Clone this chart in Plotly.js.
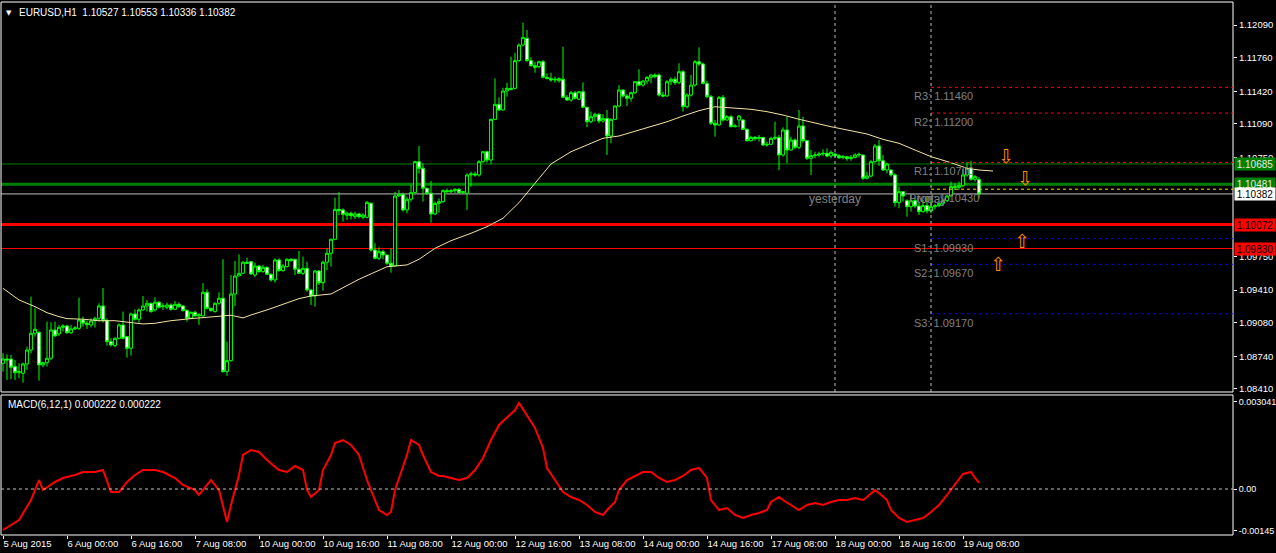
<!DOCTYPE html>
<html><head><meta charset="utf-8">
<script src="https://cdn.plot.ly/plotly-3.0.1.min.js"></script>
<style>html,body{margin:0;padding:0;background:#000;}#chart{width:1276px;height:553px;}</style>
</head><body><div id="chart"></div>
<script>
// ---- EURUSD H1 candles (bar 0 = 5 Aug 2015 08:00) ----
const opens = [
1.08669,1.08713,1.08713,1.08636,1.08575,1.08568,1.08663,1.08804,1.08973,1.08983,
1.08653,1.08676,1.08720,1.09006,1.08966,1.09033,1.09047,1.08979,1.09017,1.09023,
1.09108,1.09074,1.09057,1.09101,1.09124,1.09249,1.09101,1.08888,1.08848,1.08922,
1.09057,1.08939,1.08821,1.09168,1.09114,1.09209,1.09249,1.09276,1.09209,1.09286,
1.09242,1.09236,1.09259,1.09215,1.09266,1.09249,1.09202,1.09124,1.09185,1.09148,
1.09148,1.09387,1.09225,1.09192,1.09276,1.09327,1.08585,1.08696,1.09370,1.09552,
1.09579,1.09691,1.09697,1.09562,1.09653,1.09596,1.09640,1.09569,1.09512,1.09714,
1.09606,1.09647,1.09721,1.09721,1.09620,1.09579,1.09630,1.09411,1.09350,1.09603,
1.09485,1.09691,1.09782,1.09923,1.10226,1.10220,1.10166,1.10186,1.10152,1.10179,
1.10146,1.10146,1.10287,1.09815,1.09731,1.09798,1.09765,1.09681,1.09653,1.10361,
1.10378,1.10220,1.10328,1.10395,1.10708,1.10641,1.10439,1.10388,1.10179,1.10287,
1.10304,1.10415,1.10405,1.10415,1.10429,1.10395,1.10388,1.10574,1.10584,1.10574,
1.10708,1.10809,1.10725,1.11136,1.11288,1.11231,1.11423,1.11450,1.11450,1.11730,
1.11888,1.11955,1.11730,1.11679,1.11669,1.11719,1.11561,1.11548,1.11534,1.11527,
1.11541,1.11359,1.11332,1.11406,1.11339,1.11416,1.11258,1.11113,1.11163,1.11187,
1.11119,1.11146,1.10968,1.11136,1.11271,1.11433,1.11372,1.11349,1.11406,1.11517,
1.11483,1.11524,1.11561,1.11585,1.11585,1.11382,1.11372,1.11517,1.11541,1.11507,
1.11618,1.11264,1.11382,1.11483,1.11719,1.11696,1.11500,1.11366,1.11096,1.11079,
1.11359,1.11130,1.11163,1.11062,1.11130,1.11130,1.11035,1.10921,1.10954,1.10941,
1.10954,1.10877,1.10884,1.10944,1.10954,1.10776,1.11029,1.10826,1.10927,1.10853,
1.11069,1.10921,1.10742,1.10769,1.10776,1.10786,1.10793,1.10766,1.10786,1.10769,
1.10749,1.10759,1.10739,1.10752,1.10776,1.10776,1.10540,1.10563,1.10708,1.10867,
1.10718,1.10624,1.10624,1.10574,1.10294,1.10405,1.10314,1.10253,1.10314,1.10260,
1.10203,1.10264,1.10210,1.10253,1.10264,1.10287,1.10314,1.10361,1.10456,1.10449,
1.10466,1.10574,1.10641,1.10530,1.10527];
const highs = [
1.08771,1.08760,1.08754,1.08703,1.08669,1.08676,1.08838,1.09343,1.09225,1.08990,
1.08683,1.09091,1.09084,1.09091,1.09057,1.09064,1.09057,1.09057,1.09047,1.09333,
1.09141,1.09101,1.09124,1.09141,1.09276,1.09431,1.09124,1.08922,1.08932,1.09074,
1.09192,1.08939,1.09182,1.09215,1.09225,1.09350,1.09310,1.09283,1.09337,1.09300,
1.09276,1.09283,1.09276,1.09300,1.09286,1.09259,1.09215,1.09192,1.09202,1.09175,
1.09478,1.09418,1.09232,1.09286,1.09387,1.09721,1.08888,1.09562,1.09704,1.09771,
1.09704,1.09738,1.09704,1.09687,1.09664,1.09664,1.09647,1.09579,1.09731,1.09731,
1.09674,1.09731,1.09731,1.09724,1.09805,1.09748,1.09697,1.09418,1.09613,1.09613,
1.09707,1.09832,1.09933,1.10344,1.10402,1.10237,1.10203,1.10203,1.10203,1.10193,
1.10186,1.10311,1.10294,1.09883,1.09842,1.09815,1.09765,1.09832,1.10402,1.10422,
1.10395,1.10354,1.10472,1.10718,1.10867,1.10691,1.10445,1.10513,1.10304,1.10338,
1.10429,1.10439,1.10432,1.10439,1.10439,1.10402,1.10590,1.10607,1.10607,1.10725,
1.10816,1.10820,1.11146,1.11551,1.11359,1.11456,1.11507,1.11770,1.11810,1.11905,
1.12114,1.12040,1.11763,1.11719,1.11730,1.11736,1.11601,1.11608,1.11568,1.11561,
1.11871,1.11382,1.11423,1.11423,1.11423,1.11510,1.11264,1.11214,1.11204,1.11197,
1.11190,1.11231,1.11146,1.11281,1.11483,1.11440,1.11393,1.11416,1.11524,1.11642,
1.11534,1.11574,1.11591,1.11601,1.11601,1.11416,1.11534,1.11561,1.11568,1.11703,
1.11635,1.11399,1.11585,1.11736,1.11864,1.11709,1.11527,1.11382,1.11130,1.11372,
1.11382,1.11180,1.11180,1.11089,1.11180,1.11136,1.11045,1.10968,1.10968,1.10978,
1.10954,1.10911,1.10961,1.11113,1.10978,1.11055,1.11163,1.10961,1.10944,1.11231,
1.11163,1.10927,1.10826,1.10809,1.10809,1.10833,1.10843,1.10820,1.10799,1.10786,
1.10776,1.10766,1.10776,1.10793,1.10799,1.10776,1.10607,1.10725,1.10887,1.10927,
1.10776,1.10698,1.10631,1.10590,1.10456,1.10405,1.10328,1.10381,1.10348,1.10294,
1.10321,1.10354,1.10328,1.10280,1.10294,1.10328,1.10371,1.10506,1.10489,1.10506,
1.10631,1.10708,1.10718,1.10574,1.10553];
const lows = [
1.08585,1.08501,1.08508,1.08501,1.08518,1.08474,1.08602,1.08771,1.08939,1.08494,
1.08629,1.08636,1.08703,1.08939,1.08946,1.08990,1.08966,1.08966,1.09006,1.09006,
1.09040,1.09017,1.09033,1.09030,1.09091,1.09081,1.08848,1.08838,1.08831,1.08912,
1.08912,1.08727,1.08747,1.09101,1.09081,1.09202,1.09192,1.09182,1.09192,1.09225,
1.09209,1.09215,1.09202,1.09209,1.09232,1.09192,1.09091,1.09124,1.09141,1.09057,
1.09141,1.09215,1.09192,1.09182,1.09259,1.08575,1.08541,1.08686,1.09249,1.09552,
1.09573,1.09674,1.09562,1.09539,1.09586,1.09586,1.09562,1.09495,1.09485,1.09596,
1.09596,1.09640,1.09697,1.09562,1.09573,1.09562,1.09394,1.09259,1.09242,1.09461,
1.09404,1.09613,1.09647,1.09916,1.10169,1.10102,1.10119,1.10125,1.10129,1.10135,
1.10125,1.10135,1.09798,1.09721,1.09714,1.09721,1.09664,1.09586,1.09647,1.10354,
1.10203,1.10186,1.10304,1.10388,1.10590,1.10304,1.10371,1.10092,1.10169,1.10193,
1.10294,1.10395,1.10381,1.10388,1.10388,1.10381,1.10220,1.10456,1.10557,1.10557,
1.10698,1.10698,1.10685,1.11130,1.11224,1.11224,1.11366,1.11433,1.11440,1.11719,
1.11878,1.11719,1.11669,1.11608,1.11652,1.11551,1.11541,1.11517,1.11507,1.11507,
1.11349,1.11322,1.11315,1.11339,1.11332,1.11248,1.11055,1.11096,1.11113,1.11096,
1.11103,1.10776,1.10894,1.11130,1.11258,1.11359,1.11271,1.11315,1.11393,1.11473,
1.11467,1.11494,1.11500,1.11551,1.11366,1.11359,1.11366,1.11483,1.11483,1.11490,
1.11214,1.11248,1.11366,1.11467,1.11676,1.11490,1.11349,1.11079,1.10961,1.11069,
1.11113,1.11120,1.11055,1.11055,1.11055,1.11029,1.10911,1.10911,1.10921,1.10911,
1.10867,1.10860,1.10877,1.10927,1.10624,1.10759,1.10691,1.10820,1.10833,1.10833,
1.10900,1.10725,1.10574,1.10742,1.10752,1.10766,1.10752,1.10742,1.10752,1.10735,
1.10732,1.10718,1.10718,1.10742,1.10752,1.10523,1.10530,1.10550,1.10698,1.10665,
1.10617,1.10590,1.10557,1.10253,1.10237,1.10304,1.10152,1.10203,1.10237,1.10169,
1.10193,1.10186,1.10186,1.10226,1.10247,1.10260,1.10304,1.10354,1.10422,1.10422,
1.10449,1.10557,1.10516,1.10506,1.10336];
const closes = [
1.08713,1.08703,1.08629,1.08575,1.08585,1.08663,1.08804,1.08973,1.09013,1.08653,
1.08676,1.08720,1.09006,1.08946,1.09033,1.09047,1.08979,1.09017,1.09027,1.09108,
1.09074,1.09060,1.09097,1.09124,1.09249,1.09101,1.08888,1.08855,1.08922,1.09057,
1.08922,1.08821,1.09168,1.09114,1.09209,1.09249,1.09276,1.09192,1.09286,1.09236,
1.09249,1.09259,1.09215,1.09266,1.09242,1.09202,1.09124,1.09185,1.09148,1.09158,
1.09387,1.09225,1.09202,1.09276,1.09327,1.08585,1.08696,1.09370,1.09552,1.09579,
1.09691,1.09680,1.09573,1.09653,1.09596,1.09640,1.09569,1.09512,1.09714,1.09606,
1.09653,1.09721,1.09707,1.09620,1.09579,1.09630,1.09411,1.09350,1.09603,1.09485,
1.09691,1.09782,1.09923,1.10226,1.10213,1.10176,1.10186,1.10162,1.10179,1.10152,
1.10169,1.10297,1.09815,1.09731,1.09798,1.09765,1.09681,1.09653,1.10361,1.10378,
1.10220,1.10328,1.10395,1.10708,1.10641,1.10439,1.10388,1.10179,1.10287,1.10304,
1.10415,1.10405,1.10415,1.10429,1.10395,1.10405,1.10574,1.10584,1.10574,1.10708,
1.10809,1.10725,1.11136,1.11288,1.11231,1.11423,1.11450,1.11440,1.11730,1.11888,
1.11965,1.11730,1.11679,1.11662,1.11719,1.11561,1.11548,1.11534,1.11541,1.11548,
1.11359,1.11332,1.11406,1.11349,1.11416,1.11258,1.11113,1.11163,1.11187,1.11119,
1.11146,1.10968,1.11136,1.11271,1.11433,1.11372,1.11349,1.11406,1.11517,1.11483,
1.11524,1.11561,1.11585,1.11568,1.11382,1.11372,1.11517,1.11541,1.11507,1.11618,
1.11264,1.11382,1.11483,1.11719,1.11696,1.11500,1.11366,1.11096,1.11079,1.11359,
1.11130,1.11163,1.11062,1.11069,1.11170,1.11035,1.10921,1.10954,1.10941,1.10954,
1.10877,1.10884,1.10944,1.10954,1.10776,1.11029,1.10826,1.10927,1.10853,1.11069,
1.10921,1.10742,1.10769,1.10776,1.10786,1.10793,1.10766,1.10803,1.10769,1.10749,
1.10759,1.10739,1.10752,1.10776,1.10782,1.10540,1.10563,1.10708,1.10867,1.10718,
1.10624,1.10685,1.10574,1.10294,1.10405,1.10361,1.10253,1.10314,1.10260,1.10203,
1.10264,1.10210,1.10253,1.10264,1.10287,1.10314,1.10361,1.10456,1.10449,1.10466,
1.10574,1.10641,1.10530,1.10557,1.10382];

// ---- Moving average (read at sample bars) ----
const maBar = [0,4,8,11,14,16,20,24,28,32,35,38,42,47,51,54,57,60,62,66,70,74,77,82,89,96,101,104,108,112,117,121,125,129,133,137,142,146,150,154,158,162,166,170,174,178,182,187,191,195,199,203,207,212,216,220,224,228,232,237,241,244,247.5];
const maVal = [1.09428,1.09310,1.09242,1.09181,1.09141,1.09121,1.09115,1.09100,1.09100,1.09080,1.09067,1.09074,1.09100,1.09121,1.09135,1.09141,1.09155,1.09128,1.09158,1.09209,1.09269,1.09323,1.09350,1.09370,1.09519,1.09646,1.09664,1.09721,1.09832,1.09909,1.09984,1.10051,1.10136,1.10294,1.10490,1.10685,1.10809,1.10877,1.10945,1.10968,1.11018,1.11069,1.11112,1.11170,1.11224,1.11264,1.11254,1.11238,1.11214,1.11180,1.11137,1.11096,1.11062,1.11021,1.10988,1.10934,1.10894,1.10826,1.10759,1.10698,1.10641,1.10624,1.10614];

// ---- MACD(6,12,1) ----
const macdBar = [0,4,7,9,10,13,15,18,20,23,25,26,27,29,31,33,35,38,40,43,45,48,49,51,52,54,56,57,59,60,62,64,66,69,71,73,75,76,77,79,80,82,83,85,87,89,91,93,94,96,97,98,100,101,102,104,105,107,109,110,112,114,116,118,120,122,124,126,128,129,131,133,135,136,138,140,142,144,146,148,150,151,153,154,156,158,160,162,164,166,168,170,172,174,176,177,179,181,183,185,187,189,191,192,194,195,197,199,201,203,205,207,209,211,213,215,216,218,219,221,222,224,226,228,230,232,234,236,238,240,242,243,244];
const macdVal = [-0.001423,-0.001076,-0.000382,0.000312,-0.000035,0.000243,0.000382,0.000486,0.000590,0.000590,0.000659,0.000312,-0.000104,-0.000104,0.000243,0.000486,0.000659,0.000659,0.000590,0.000382,0.000139,-0.000035,-0.000208,0.000139,0.000312,-0.000035,-0.001145,-0.000555,0.000486,0.001180,0.001353,0.001284,0.001006,0.000659,0.000590,0.000798,0.000659,-0.000035,-0.000278,-0.000035,0.000659,0.001180,0.001596,0.001700,0.001527,0.001180,0.000312,-0.000382,-0.000729,-0.000902,-0.000798,-0.000035,0.000729,0.001180,0.001700,0.001527,0.001180,0.000590,0.000451,0.000451,0.000382,0.000312,0.000382,0.000659,0.001076,0.001700,0.002221,0.002464,0.002741,0.002984,0.002568,0.002117,0.001423,0.000729,0.000312,-0.000104,-0.000278,-0.000382,-0.000555,-0.000798,-0.000902,-0.000729,-0.000451,-0.000035,0.000312,0.000451,0.000590,0.000590,0.000382,0.000243,0.000312,0.000451,0.000659,0.000729,0.000382,-0.000382,-0.000729,-0.000659,-0.000902,-0.001006,-0.000902,-0.000833,-0.000729,-0.000451,-0.000278,-0.000382,-0.000555,-0.000729,-0.000555,-0.000486,-0.000555,-0.000451,-0.000382,-0.000382,-0.000312,-0.000382,-0.000278,-0.000035,-0.000139,-0.000382,-0.000729,-0.001006,-0.001145,-0.001076,-0.001006,-0.000798,-0.000555,-0.000208,0.000139,0.000521,0.000590,0.000382,0.000222];

// ---- axes ----
const timeTickBar = [0,16,32,48,64,80,96,112,128,144,160,176,192,208,224,240];
const timeTickText = ["5 Aug 2015","6 Aug 00:00","6 Aug 16:00","7 Aug 08:00","10 Aug 00:00","10 Aug 16:00","11 Aug 08:00","12 Aug 00:00","12 Aug 16:00","13 Aug 08:00","14 Aug 00:00","14 Aug 16:00","17 Aug 08:00","18 Aug 00:00","18 Aug 16:00","19 Aug 08:00"];
const priceTicks = [1.12090,1.11760,1.11420,1.11090,1.10750,1.09750,1.09410,1.09080,1.08740,1.08410];
const macdTicks = [0.003041,0,-0.00145];
const macdTickText = ["0.003041","0.00","-0.00145"];

// ---- levels ----
const yesterdayBar = 208, todayBar = 232;
const pivotNames = ["R3","R2","R1","S1","S2","S3"];
const pivotValues = [1.11460,1.11200,1.10700,1.09930,1.09670,1.09170];
const pivotColors = ["#ff0000","#ff0000","#ff0000","#0000ff","#0000ff","#0000ff"];
const pivotMain = 1.10430;
const hLevels = [1.10685,1.10481,1.10382,1.10072,1.09830];
const hColors = ["#008000","#008000","#c0c0c0","#ff0000","#ff0000"];
const hWidths = [1,3,1,3,1];
const hBoxBg = ["#008000","#008000","#ffffff","#ff0000","#ff0000"];
const hBoxFg = ["#e8e8e8","#e8e8e8","#000000","#000000","#000000"];
const arrowBar = [250.75,255.5,254.75,248.75];
const arrowPrice = [1.10766,1.10543,1.09906,1.09674];
const arrowDir = ["down","down","up","up"];
const titleText = "EURUSD,H1\u00a0\u00a01.10527 1.10553 1.10336 1.10382";
const macdTitle = "MACD(6,12,1) 0.000222 0.000222";

if (![highs,lows,closes].every(a => a.length === opens.length)) console.error("length mismatch");
const barIdx = opens.map((_, i) => i);

const FONT = "Liberation Sans, Arial, sans-serif";
const TICKFONT = {family:FONT, size:9.5, color:'#ffffff'};
const traces = [
  {type:'candlestick', x:barIdx, open:opens, high:highs, low:lows, close:closes,
   xaxis:'x', yaxis:'y', whiskerwidth:0,
   increasing:{line:{color:'#00ff00', width:1}, fillcolor:'#000000'},
   decreasing:{line:{color:'#00ff00', width:1}, fillcolor:'#ffffff'},
   hoverinfo:'skip'},
  {type:'scatter', mode:'lines', x:maBar, y:maVal, xaxis:'x', yaxis:'y',
   line:{color:'#f5e3a0', width:1}, hoverinfo:'skip'},
  {type:'scatter', mode:'lines', x:macdBar, y:macdVal, xaxis:'x', yaxis:'y2',
   line:{color:'#ff0000', width:2}, hoverinfo:'skip'}
];

const shapes = [];
shapes.push({type:'rect', xref:'x domain', yref:'y domain', x0:0, x1:1, y0:0, y1:1, line:{color:'#ffffff', width:1}, layer:'above'});
shapes.push({type:'rect', xref:'x domain', yref:'y2 domain', x0:0, x1:1, y0:0, y1:1, line:{color:'#ffffff', width:1}, layer:'above'});
hLevels.forEach((v, k) => shapes.push({type:'line', xref:'x domain', x0:0, x1:1, yref:'y', y0:v, y1:v, line:{color:hColors[k], width:hWidths[k]}, layer:'below'}));
pivotValues.forEach((v, k) => shapes.push({type:'line', xref:'x', x0:todayBar, x1:307.5, yref:'y', y0:v, y1:v, line:{color:pivotColors[k], width:1, dash:'3px,3px'}}));
shapes.push({type:'line', xref:'x', x0:todayBar, x1:307.5, yref:'y', y0:pivotMain, y1:pivotMain, line:{color:'#ffd700', width:1, dash:'3px,3px'}});
[yesterdayBar, todayBar].forEach(b => shapes.push({type:'line', xref:'x', x0:b, x1:b, yref:'y domain', y0:0, y1:1, line:{color:'#c0c0c0', width:1, dash:'3px,3px'}}));
shapes.push({type:'line', xref:'x domain', x0:0, x1:1, yref:'y2', y0:0, y1:0, line:{color:'#c0c0c0', width:1, dash:'3px,3px'}});

const annotations = [];
annotations.push({xref:'paper', yref:'paper', x:0, y:1, xanchor:'left', yanchor:'top', xshift:3, yshift:-5, showarrow:false, text:'\u25bc', font:{family:'DejaVu Sans', size:7, color:'#ffffff'}});
annotations.push({xref:'paper', yref:'paper', x:0, y:1, xanchor:'left', yanchor:'top', xshift:16, yshift:-3, showarrow:false, text:titleText, font:{family:FONT, size:10, color:'#ffffff'}});
annotations.push({xref:'paper', yref:'y2 domain', x:0, y:1, xanchor:'left', yanchor:'top', xshift:5, yshift:-2, showarrow:false, text:macdTitle, font:{family:FONT, size:10, color:'#ffffff'}});
hLevels.forEach((v, k) => annotations.push({xref:'paper', yref:'y', x:1, y:v, xanchor:'left', yanchor:'middle', xshift:1, showarrow:false,
  text:v.toFixed(5), bgcolor:hBoxBg[k], font:{family:FONT, size:10, color:hBoxFg[k]}, width:40, height:12, borderpad:0}));
pivotValues.forEach((v, k) => annotations.push({xref:'x', yref:'y', x:227.25, y:v, xanchor:'left', yanchor:'top', yshift:-1, showarrow:false,
  text:pivotNames[k] + ': ' + v.toFixed(5), font:{family:FONT, size:11, color:'#808080'}}));
annotations.push({xref:'x', yref:'y', x:226, y:pivotMain, xanchor:'left', yanchor:'top', yshift:-1, showarrow:false, text:'Pivot: ' + pivotMain.toFixed(5), font:{family:FONT, size:11, color:'#808080'}});
annotations.push({xref:'x', yref:'y', x:yesterdayBar, y:pivotMain, xanchor:'center', yanchor:'top', yshift:-1, showarrow:false, text:'yesterday', font:{family:FONT, size:12, color:'#808080'}});
annotations.push({xref:'x', yref:'y', x:todayBar, y:pivotMain, xanchor:'center', yanchor:'top', yshift:-1, showarrow:false, text:'today', font:{family:FONT, size:12, color:'#808080'}});
arrowBar.forEach((b, k) => annotations.push({xref:'x', yref:'y', x:b, y:arrowPrice[k], xanchor:'center', yanchor:'middle', showarrow:false,
  text: arrowDir[k] === 'down' ? '\u21e9' : '\u21e7', font:{family:'DejaVu Sans', size:19, color:'#ff8c00'}}));

const layout = {
  width:1276, height:553, paper_bgcolor:'#000000', plot_bgcolor:'#000000',
  margin:{l:1, r:43, t:2, b:18}, showlegend:false, hovermode:false,
  boxgap:0.15, boxgroupgap:0.15,
  font:{family:FONT, size:10, color:'#ffffff'},
  xaxis:{range:[-0.5,307.5], anchor:'y2', showgrid:false, zeroline:false, showline:false, automargin:false,
    tickmode:'array', tickvals:timeTickBar, ticktext:timeTickText, tickangle:0, ticks:'outside', ticklen:3, tickcolor:'#ffffff',
    ticklabelposition:'outside right', tickfont:TICKFONT, rangeslider:{visible:false}, fixedrange:true},
  yaxis:{domain:[0.2683,1], range:[1.08379,1.12323], side:'right', anchor:'x', showgrid:false, zeroline:false, showline:false, automargin:false,
    tickmode:'array', tickvals:priceTicks, ticktext:priceTicks.map(v => v.toFixed(5)), ticks:'outside', ticklen:3, tickcolor:'#ffffff',
    tickfont:TICKFONT},
  yaxis2:{domain:[0,0.2627], range:[-0.001596,0.003262], side:'right', anchor:'x', showgrid:false, zeroline:false, showline:false, automargin:false,
    tickmode:'array', tickvals:macdTicks, ticktext:macdTickText, ticks:'outside', ticklen:3, tickcolor:'#ffffff',
    tickfont:{family:FONT, size:9, color:'#ffffff'}},
  shapes:shapes, annotations:annotations
};
Plotly.newPlot('chart', traces, layout, {displayModeBar:false, staticPlot:true});
</script></body></html>
